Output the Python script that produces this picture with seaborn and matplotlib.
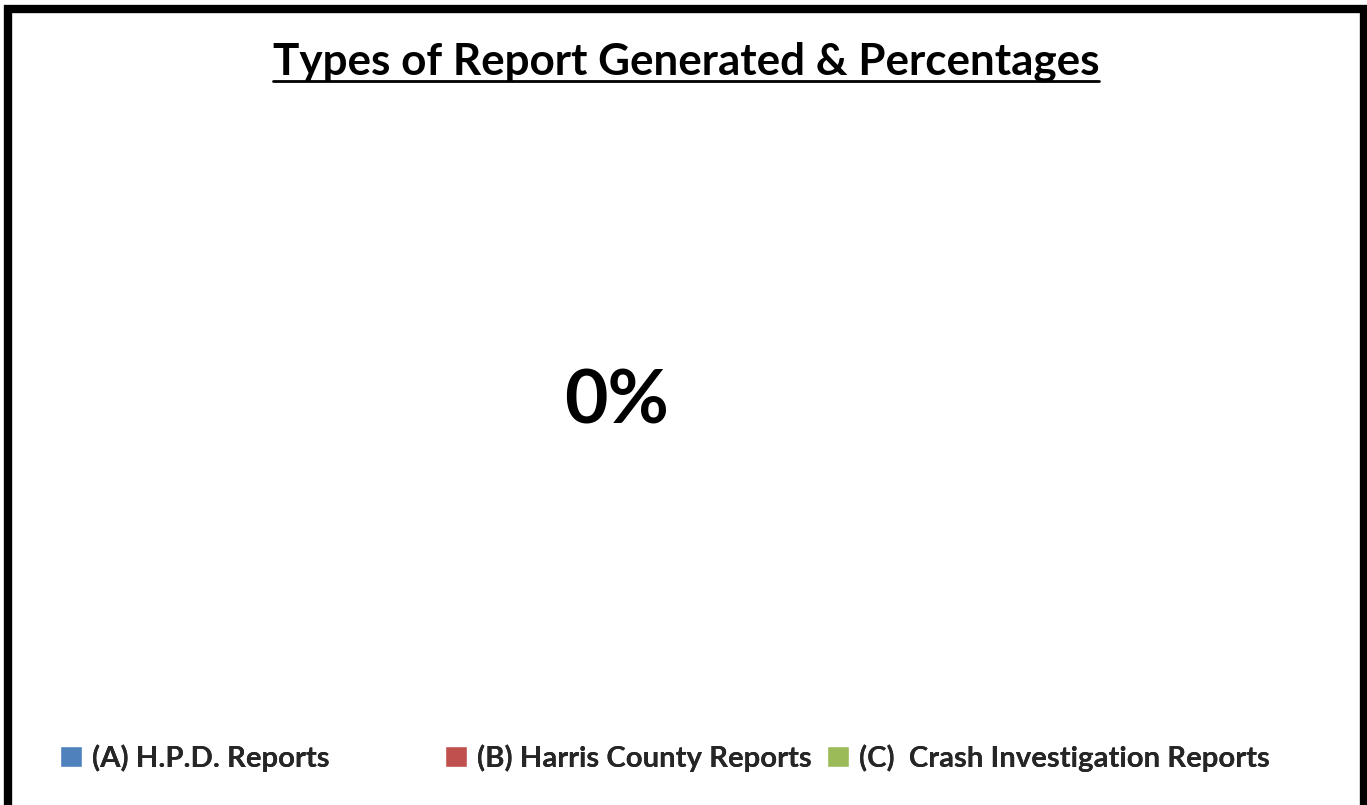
import numpy as np
import matplotlib
matplotlib.use('Agg')
import matplotlib.pyplot as plt
from matplotlib.patches import Patch, Rectangle
from matplotlib.lines import Line2D
import seaborn as sns

# Dados do gráfico (todas as contagens são zero no original)
categorias = ['(A) H.P.D. Reports', '(B) Harris County Reports', '(C)  Crash Investigation Reports']
contagens = [0, 0, 0]
cores = ['#4F81BD', '#C0504D', '#9BBB59']
titulo = 'Types of Report Generated & Percentages'

sns.set_theme(style='white')
plt.rcParams['font.family'] = ['Lato', 'DejaVu Sans']

W, H = 1367, 805
fig = plt.figure(figsize=(W / 100, H / 100), dpi=100)
fig.patch.set_facecolor('white')

# moldura preta grossa
fig.patches.append(Rectangle((8 / W, -0.05), 1356 / W, 1.05 - 9 / H,
                             transform=fig.transFigure, fill=False,
                             edgecolor='black', linewidth=6, zorder=0))

# título sublinhado
t = fig.text(686 / W, 1 - 62 / H, titulo, ha='center', va='center',
             fontsize=31.7, fontweight='bold', color='black')
fig.canvas.draw()
bb = t.get_window_extent(renderer=fig.canvas.get_renderer())
y_line = 1 - 81 / H
fig.lines.append(Line2D([bb.x0 / W, bb.x1 / W], [y_line, y_line],
                        transform=fig.transFigure, color='black', linewidth=2))

# área do gráfico de pizza (vazio: soma zero)
ax = fig.add_axes([0.2, 0.15, 0.5, 0.7])
ax.set_axis_off()
total = sum(contagens)
pct = [0 if total == 0 else 100 * c / total for c in contagens]
if total > 0:
    ax.pie(contagens, colors=cores)
ax.set_xlim(-1, 1)
ax.set_ylim(-1, 1)
ax.text((617 / W - 0.2) / 0.5, (1 - 402 / H - 0.15) / 0.7, f'{pct[0]:.0f}%',
        ha='center', va='center', fontsize=54, fontweight='bold',
        color='black', transform=ax.transAxes)

# legenda: uma entrada por coluna, colunas de largura fixa
xs = [60, 445, 827]
for nome, cor, x in zip(categorias, cores, xs):
    leg = fig.legend(handles=[Patch(facecolor=cor, label=nome)],
                     loc='center left', bbox_to_anchor=(x / W, 1 - 758 / H),
                     frameon=False, handlelength=0.75, handleheight=0.75,
                     handletextpad=0.35, borderpad=0, borderaxespad=0,
                     prop={'size': 21.2, 'weight': 'bold'})
    fig.add_artist(leg)

fig.savefig('out.png', dpi=100, facecolor='white')
